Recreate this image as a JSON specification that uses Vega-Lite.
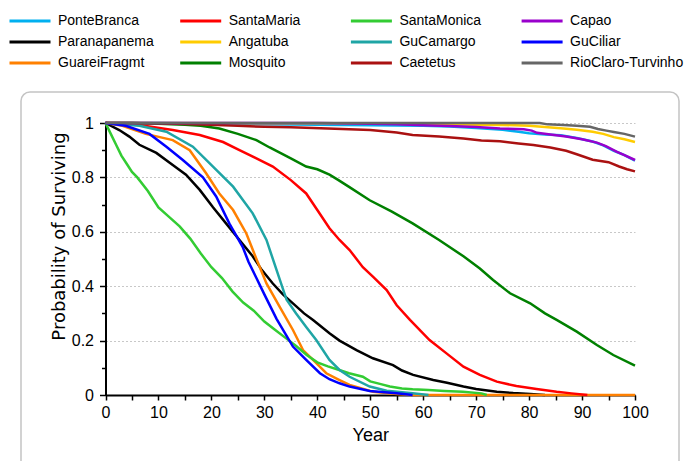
{
  "$schema": "https://vega.github.io/schema/vega-lite/v6.json",
  "autosize": "none",
  "width": 658,
  "height": 390,
  "padding": {"left": 21, "top": 92, "right": 8, "bottom": -21},
  "background": "white",
  "config": {
    "view": {"stroke": "#c4c4c4", "strokeWidth": 1.5, "cornerRadius": 9},
    "font": "Liberation Sans"
  },
  "datasets": {
    "curves": [
      {"s":"PonteBranca","t":0,"p":1},{"s":"PonteBranca","t":10,"p":1},{"s":"PonteBranca","t":20,"p":0.998},{"s":"PonteBranca","t":30,"p":0.995},{"s":"PonteBranca","t":40,"p":0.994},{"s":"PonteBranca","t":50,"p":0.992},{"s":"PonteBranca","t":60,"p":0.99},{"s":"PonteBranca","t":65,"p":0.987},{"s":"PonteBranca","t":70,"p":0.982},{"s":"PonteBranca","t":75,"p":0.975},{"s":"PonteBranca","t":78,"p":0.968},{"s":"PonteBranca","t":80,"p":0.962},{"s":"PonteBranca","t":83,"p":0.958},{"s":"PonteBranca","t":86,"p":0.955},{"s":"PonteBranca","t":89,"p":0.945},{"s":"PonteBranca","t":92,"p":0.932},{"s":"PonteBranca","t":94,"p":0.918},{"s":"PonteBranca","t":96,"p":0.898},{"s":"PonteBranca","t":98,"p":0.882},{"s":"PonteBranca","t":100,"p":0.862},
      {"s":"Paranapanema","t":0,"p":1},{"s":"Paranapanema","t":2.6,"p":0.974},{"s":"Paranapanema","t":4.5,"p":0.95},{"s":"Paranapanema","t":6.4,"p":0.92},{"s":"Paranapanema","t":9.6,"p":0.89},{"s":"Paranapanema","t":12.7,"p":0.846},{"s":"Paranapanema","t":15.2,"p":0.81},{"s":"Paranapanema","t":17.8,"p":0.754},{"s":"Paranapanema","t":20.3,"p":0.69},{"s":"Paranapanema","t":22.8,"p":0.63},{"s":"Paranapanema","t":25.3,"p":0.57},{"s":"Paranapanema","t":27.8,"p":0.51},{"s":"Paranapanema","t":29.5,"p":0.46},{"s":"Paranapanema","t":31.6,"p":0.41},{"s":"Paranapanema","t":33.5,"p":0.37},{"s":"Paranapanema","t":35.4,"p":0.337},{"s":"Paranapanema","t":37.5,"p":0.3},{"s":"Paranapanema","t":39.2,"p":0.276},{"s":"Paranapanema","t":42.3,"p":0.227},{"s":"Paranapanema","t":44.2,"p":0.2},{"s":"Paranapanema","t":47.4,"p":0.165},{"s":"Paranapanema","t":50.5,"p":0.135},{"s":"Paranapanema","t":54.3,"p":0.11},{"s":"Paranapanema","t":56,"p":0.09},{"s":"Paranapanema","t":58.1,"p":0.074},{"s":"Paranapanema","t":61.9,"p":0.055},{"s":"Paranapanema","t":64.5,"p":0.045},{"s":"Paranapanema","t":67.6,"p":0.031},{"s":"Paranapanema","t":70,"p":0.022},{"s":"Paranapanema","t":73.9,"p":0.012},{"s":"Paranapanema","t":77,"p":0.007},{"s":"Paranapanema","t":80.2,"p":0.004},{"s":"Paranapanema","t":83,"p":0},
      {"s":"GuareiFragmt","t":0,"p":1},{"s":"GuareiFragmt","t":3.2,"p":0.99},{"s":"GuareiFragmt","t":7.6,"p":0.96},{"s":"GuareiFragmt","t":12.7,"p":0.937},{"s":"GuareiFragmt","t":15.9,"p":0.9},{"s":"GuareiFragmt","t":19,"p":0.815},{"s":"GuareiFragmt","t":21.5,"p":0.741},{"s":"GuareiFragmt","t":24.1,"p":0.68},{"s":"GuareiFragmt","t":26.6,"p":0.594},{"s":"GuareiFragmt","t":28.5,"p":0.5},{"s":"GuareiFragmt","t":30.4,"p":0.41},{"s":"GuareiFragmt","t":32.9,"p":0.324},{"s":"GuareiFragmt","t":35.4,"p":0.239},{"s":"GuareiFragmt","t":37.3,"p":0.165},{"s":"GuareiFragmt","t":39.2,"p":0.129},{"s":"GuareiFragmt","t":41.7,"p":0.08},{"s":"GuareiFragmt","t":44.2,"p":0.055},{"s":"GuareiFragmt","t":46.1,"p":0.037},{"s":"GuareiFragmt","t":50.5,"p":0.012},{"s":"GuareiFragmt","t":55,"p":0.004},{"s":"GuareiFragmt","t":58,"p":0},{"s":"GuareiFragmt","t":100,"p":0},
      {"s":"SantaMaria","t":0,"p":1},{"s":"SantaMaria","t":3,"p":0.997},{"s":"SantaMaria","t":6.4,"p":0.993},{"s":"SantaMaria","t":12.7,"p":0.974},{"s":"SantaMaria","t":17.8,"p":0.956},{"s":"SantaMaria","t":22.2,"p":0.93},{"s":"SantaMaria","t":25.3,"p":0.9},{"s":"SantaMaria","t":28.5,"p":0.87},{"s":"SantaMaria","t":31.6,"p":0.84},{"s":"SantaMaria","t":35,"p":0.79},{"s":"SantaMaria","t":37.9,"p":0.741},{"s":"SantaMaria","t":40,"p":0.68},{"s":"SantaMaria","t":42.3,"p":0.613},{"s":"SantaMaria","t":44.2,"p":0.57},{"s":"SantaMaria","t":46.1,"p":0.533},{"s":"SantaMaria","t":48.6,"p":0.47},{"s":"SantaMaria","t":50.5,"p":0.435},{"s":"SantaMaria","t":53.1,"p":0.386},{"s":"SantaMaria","t":55,"p":0.33},{"s":"SantaMaria","t":57.5,"p":0.276},{"s":"SantaMaria","t":61.2,"p":0.202},{"s":"SantaMaria","t":64.4,"p":0.153},{"s":"SantaMaria","t":67.6,"p":0.104},{"s":"SantaMaria","t":70.7,"p":0.074},{"s":"SantaMaria","t":73.9,"p":0.049},{"s":"SantaMaria","t":77.6,"p":0.033},{"s":"SantaMaria","t":81.4,"p":0.022},{"s":"SantaMaria","t":85.2,"p":0.012},{"s":"SantaMaria","t":88,"p":0.006},{"s":"SantaMaria","t":91,"p":0},
      {"s":"Angatuba","t":0,"p":1},{"s":"Angatuba","t":50,"p":0.999},{"s":"Angatuba","t":60,"p":0.996},{"s":"Angatuba","t":70,"p":0.994},{"s":"Angatuba","t":75,"p":0.993},{"s":"Angatuba","t":80,"p":0.99},{"s":"Angatuba","t":83,"p":0.985},{"s":"Angatuba","t":86.5,"p":0.98},{"s":"Angatuba","t":89,"p":0.975},{"s":"Angatuba","t":92,"p":0.968},{"s":"Angatuba","t":94,"p":0.96},{"s":"Angatuba","t":96,"p":0.948},{"s":"Angatuba","t":98,"p":0.94},{"s":"Angatuba","t":100,"p":0.93},
      {"s":"Mosquito","t":0,"p":1},{"s":"Mosquito","t":5,"p":1},{"s":"Mosquito","t":10,"p":0.997},{"s":"Mosquito","t":15,"p":0.994},{"s":"Mosquito","t":18,"p":0.99},{"s":"Mosquito","t":21.5,"p":0.98},{"s":"Mosquito","t":25,"p":0.96},{"s":"Mosquito","t":28.5,"p":0.937},{"s":"Mosquito","t":31,"p":0.91},{"s":"Mosquito","t":33,"p":0.89},{"s":"Mosquito","t":35,"p":0.87},{"s":"Mosquito","t":37.9,"p":0.84},{"s":"Mosquito","t":40,"p":0.83},{"s":"Mosquito","t":42.3,"p":0.81},{"s":"Mosquito","t":44,"p":0.79},{"s":"Mosquito","t":46,"p":0.765},{"s":"Mosquito","t":49.9,"p":0.716},{"s":"Mosquito","t":54,"p":0.675},{"s":"Mosquito","t":58,"p":0.631},{"s":"Mosquito","t":63,"p":0.57},{"s":"Mosquito","t":67.6,"p":0.51},{"s":"Mosquito","t":70.7,"p":0.465},{"s":"Mosquito","t":73.2,"p":0.423},{"s":"Mosquito","t":76.4,"p":0.374},{"s":"Mosquito","t":80.2,"p":0.337},{"s":"Mosquito","t":83,"p":0.3},{"s":"Mosquito","t":85.2,"p":0.276},{"s":"Mosquito","t":89,"p":0.233},{"s":"Mosquito","t":92.8,"p":0.184},{"s":"Mosquito","t":95.9,"p":0.147},{"s":"Mosquito","t":100,"p":0.108},
      {"s":"SantaMonica","t":0,"p":1},{"s":"SantaMonica","t":1,"p":0.96},{"s":"SantaMonica","t":2,"p":0.92},{"s":"SantaMonica","t":3,"p":0.88},{"s":"SantaMonica","t":4,"p":0.85},{"s":"SantaMonica","t":5,"p":0.82},{"s":"SantaMonica","t":6,"p":0.8},{"s":"SantaMonica","t":8,"p":0.75},{"s":"SantaMonica","t":10,"p":0.69},{"s":"SantaMonica","t":12,"p":0.655},{"s":"SantaMonica","t":14,"p":0.62},{"s":"SantaMonica","t":16,"p":0.575},{"s":"SantaMonica","t":18,"p":0.52},{"s":"SantaMonica","t":20,"p":0.47},{"s":"SantaMonica","t":22,"p":0.43},{"s":"SantaMonica","t":24,"p":0.38},{"s":"SantaMonica","t":26,"p":0.34},{"s":"SantaMonica","t":28,"p":0.31},{"s":"SantaMonica","t":30,"p":0.27},{"s":"SantaMonica","t":32,"p":0.24},{"s":"SantaMonica","t":34,"p":0.21},{"s":"SantaMonica","t":36,"p":0.18},{"s":"SantaMonica","t":38,"p":0.147},{"s":"SantaMonica","t":40,"p":0.12},{"s":"SantaMonica","t":42,"p":0.105},{"s":"SantaMonica","t":44,"p":0.093},{"s":"SantaMonica","t":46,"p":0.08},{"s":"SantaMonica","t":48.6,"p":0.067},{"s":"SantaMonica","t":50,"p":0.05},{"s":"SantaMonica","t":52,"p":0.04},{"s":"SantaMonica","t":53.7,"p":0.031},{"s":"SantaMonica","t":56,"p":0.024},{"s":"SantaMonica","t":58,"p":0.021},{"s":"SantaMonica","t":61,"p":0.018},{"s":"SantaMonica","t":64,"p":0.015},{"s":"SantaMonica","t":67.5,"p":0.012},{"s":"SantaMonica","t":71,"p":0.006},{"s":"SantaMonica","t":72,"p":0},
      {"s":"GuCamargo","t":0,"p":1},{"s":"GuCamargo","t":6.4,"p":0.99},{"s":"GuCamargo","t":11.5,"p":0.968},{"s":"GuCamargo","t":16.5,"p":0.913},{"s":"GuCamargo","t":20.3,"p":0.84},{"s":"GuCamargo","t":24.1,"p":0.766},{"s":"GuCamargo","t":27.8,"p":0.668},{"s":"GuCamargo","t":30.4,"p":0.57},{"s":"GuCamargo","t":32.3,"p":0.46},{"s":"GuCamargo","t":34.2,"p":0.35},{"s":"GuCamargo","t":36,"p":0.3},{"s":"GuCamargo","t":37.9,"p":0.25},{"s":"GuCamargo","t":39.8,"p":0.202},{"s":"GuCamargo","t":42.3,"p":0.129},{"s":"GuCamargo","t":44.2,"p":0.092},{"s":"GuCamargo","t":46.1,"p":0.067},{"s":"GuCamargo","t":49.9,"p":0.031},{"s":"GuCamargo","t":53.1,"p":0.016},{"s":"GuCamargo","t":58,"p":0.006},{"s":"GuCamargo","t":61,"p":0},
      {"s":"Caetetus","t":0,"p":1},{"s":"Caetetus","t":10,"p":0.999},{"s":"Caetetus","t":17,"p":0.995},{"s":"Caetetus","t":25,"p":0.99},{"s":"Caetetus","t":30,"p":0.986},{"s":"Caetetus","t":35,"p":0.984},{"s":"Caetetus","t":42,"p":0.98},{"s":"Caetetus","t":50,"p":0.974},{"s":"Caetetus","t":55,"p":0.965},{"s":"Caetetus","t":58,"p":0.956},{"s":"Caetetus","t":63,"p":0.95},{"s":"Caetetus","t":67.6,"p":0.943},{"s":"Caetetus","t":71,"p":0.936},{"s":"Caetetus","t":74.5,"p":0.933},{"s":"Caetetus","t":78,"p":0.925},{"s":"Caetetus","t":80.8,"p":0.919},{"s":"Caetetus","t":84,"p":0.91},{"s":"Caetetus","t":87,"p":0.898},{"s":"Caetetus","t":89,"p":0.885},{"s":"Caetetus","t":92,"p":0.865},{"s":"Caetetus","t":95,"p":0.856},{"s":"Caetetus","t":97,"p":0.84},{"s":"Caetetus","t":98.5,"p":0.83},{"s":"Caetetus","t":100,"p":0.822},
      {"s":"Capao","t":0,"p":1},{"s":"Capao","t":40,"p":1},{"s":"Capao","t":50,"p":0.997},{"s":"Capao","t":55,"p":0.995},{"s":"Capao","t":60,"p":0.992},{"s":"Capao","t":65,"p":0.989},{"s":"Capao","t":70,"p":0.985},{"s":"Capao","t":74.5,"p":0.98},{"s":"Capao","t":79,"p":0.977},{"s":"Capao","t":80.5,"p":0.972},{"s":"Capao","t":81.5,"p":0.964},{"s":"Capao","t":84,"p":0.958},{"s":"Capao","t":87,"p":0.95},{"s":"Capao","t":90,"p":0.94},{"s":"Capao","t":92.8,"p":0.928},{"s":"Capao","t":94.5,"p":0.915},{"s":"Capao","t":96.5,"p":0.895},{"s":"Capao","t":98,"p":0.882},{"s":"Capao","t":100,"p":0.864},
      {"s":"GuCiliar","t":0,"p":1},{"s":"GuCiliar","t":3.8,"p":0.99},{"s":"GuCiliar","t":8.3,"p":0.96},{"s":"GuCiliar","t":11.5,"p":0.913},{"s":"GuCiliar","t":14.6,"p":0.864},{"s":"GuCiliar","t":18.4,"p":0.8},{"s":"GuCiliar","t":20.9,"p":0.73},{"s":"GuCiliar","t":23.4,"p":0.63},{"s":"GuCiliar","t":25.9,"p":0.545},{"s":"GuCiliar","t":27,"p":0.49},{"s":"GuCiliar","t":28.5,"p":0.43},{"s":"GuCiliar","t":30,"p":0.37},{"s":"GuCiliar","t":32.3,"p":0.28},{"s":"GuCiliar","t":35.4,"p":0.178},{"s":"GuCiliar","t":37.9,"p":0.129},{"s":"GuCiliar","t":40.5,"p":0.08},{"s":"GuCiliar","t":42.3,"p":0.058},{"s":"GuCiliar","t":44.2,"p":0.043},{"s":"GuCiliar","t":46.1,"p":0.031},{"s":"GuCiliar","t":49.9,"p":0.015},{"s":"GuCiliar","t":55,"p":0.006},{"s":"GuCiliar","t":58,"p":0},
      {"s":"RioClaro-Turvinho","t":0,"p":1},{"s":"RioClaro-Turvinho","t":82,"p":1},{"s":"RioClaro-Turvinho","t":83.5,"p":0.995},{"s":"RioClaro-Turvinho","t":86.5,"p":0.993},{"s":"RioClaro-Turvinho","t":89,"p":0.99},{"s":"RioClaro-Turvinho","t":91.5,"p":0.986},{"s":"RioClaro-Turvinho","t":93,"p":0.978},{"s":"RioClaro-Turvinho","t":94.6,"p":0.972},{"s":"RioClaro-Turvinho","t":96,"p":0.967},{"s":"RioClaro-Turvinho","t":98,"p":0.96},{"s":"RioClaro-Turvinho","t":100,"p":0.95}
    ]
  },
  "data": {"name": "curves"},
  "mark": {"type": "line", "strokeWidth": 2.5},
  "encoding": {
    "x": {
      "field": "t", "type": "quantitative",
      "scale": {"domain": [0, 100], "range": [84.5, 614], "nice": false, "zero": false},
      "axis": {
        "title": "Year",
        "values": [0,5,10,15,20,25,30,35,40,45,50,55,60,65,70,75,80,85,90,95,100],
        "labelExpr": "datum.value % 10 === 0 ? datum.label : ''",
        "offset": -87,
        "grid": false,
        "domainColor": "black", "domainWidth": 2,
        "tickColor": "black", "tickWidth": 1.5, "tickSize": 5,
        "labelFont": "Liberation Sans", "labelFontSize": 16, "labelColor": "black",
        "labelPadding": 4, "labelFlush": false, "labelOverlap": false,
        "titleFont": "Liberation Sans", "titleFontSize": 18, "titleFontWeight": "normal",
        "titleColor": "black", "titlePadding": 6
      }
    },
    "y": {
      "field": "p", "type": "quantitative",
      "scale": {"domain": [0, 1], "range": [303, 31], "nice": false, "zero": false},
      "axis": {
        "title": "Probability of Surviving",
        "values": [0,0.1,0.2,0.3,0.4,0.5,0.6,0.7,0.8,0.9,1],
        "labelExpr": "round(datum.value*10) % 2 === 1 ? '' : format(datum.value, '~g')",
        "offset": -84.5,
        "grid": true,
        "gridColor": "#c8c8c8", "gridDash": [2, 2], "gridWidth": 1,
        "gridOpacity": {"condition": {"test": "round(datum.value*10) % 2 === 1", "value": 0}, "value": 1},
        "domainColor": "black", "domainWidth": 2,
        "tickColor": "black", "tickWidth": 1.5,
        "tickSize": {"condition": {"test": "round(datum.value*10) % 2 === 1", "value": 4}, "value": 6},
        "labelFont": "Liberation Sans", "labelFontSize": 16, "labelColor": "black",
        "labelPadding": 6, "labelFlush": false, "labelOverlap": false,
        "titleFont": "DejaVu Sans", "titleFontSize": 18, "titleFontWeight": "normal",
        "titleColor": "black", "titlePadding": 3, "titleY": 144
      }
    },
    "color": {
      "field": "s", "type": "nominal",
      "scale": {
        "domain": ["PonteBranca","Paranapanema","GuareiFragmt","SantaMaria","Angatuba","Mosquito","SantaMonica","GuCamargo","Caetetus","Capao","GuCiliar","RioClaro-Turvinho"],
        "range": ["#00B0F0","#000000","#FF8000","#FF0000","#FFCC00","#008000","#33CC33","#1FA5A5","#AA1111","#9900CC","#0000FF","#666666"]
      },
      "legend": {
        "orient": "none", "legendX": -13, "legendY": -78.5,
        "columns": 4, "gridAlign": "all", "title": null,
        "symbolType": "stroke", "symbolSize": 1681, "symbolStrokeWidth": 3,
        "clipHeight": 15, "rowPadding": 6, "columnPadding": 6.7,
        "labelFont": "Liberation Sans", "labelFontSize": 14, "labelColor": "black",
        "labelOffset": 6, "labelLimit": 200, "padding": 0
      }
    }
  }
}
